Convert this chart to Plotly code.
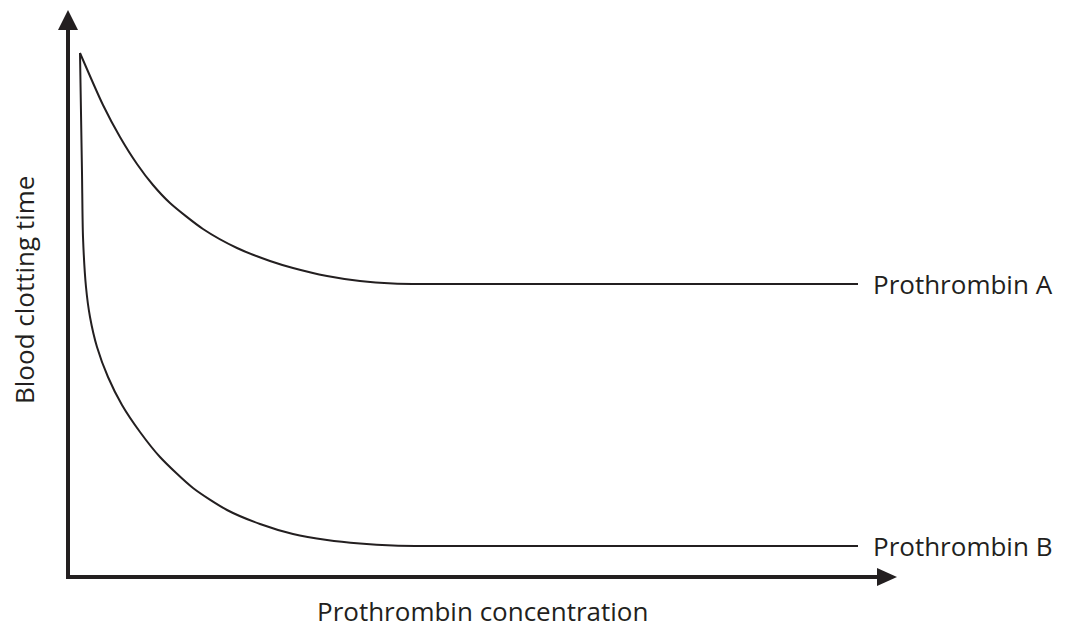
import plotly.graph_objects as go

# Data (arbitrary units: origin at the axes corner)
conc_a = [12, 35, 52, 69, 85, 102, 135, 169, 202, 225, 259, 292, 325, 359, 790]
time_a = [524, 472, 440, 413, 392, 374, 348, 329, 316, 309, 301, 296, 293.5, 293, 293]
conc_b = [12, 14, 15, 18, 22, 29, 40, 54, 72, 92, 125, 159, 192, 225, 259, 292, 325, 359, 790]
time_b = [524, 404, 340, 290, 260, 230, 200, 172, 145, 120, 89, 67, 53, 43, 37, 33.5, 31.5, 31, 31]
series_names = ["Prothrombin A", "Prothrombin B"]
x_title = "Prothrombin concentration"
y_title = "Blood clotting time"

INK = "#231f20"
X_END = 829   # tip of x-axis arrow
Y_END = 567   # tip of y-axis arrow
ARROW_LEN = 20
ARROW_HALF = 9

fig = go.Figure()
for cx, ty, name in [(conc_a, time_a, series_names[0]), (conc_b, time_b, series_names[1])]:
    fig.add_trace(go.Scatter(x=cx, y=ty, mode="lines", name=name,
                             line=dict(color=INK, width=2, shape="spline", smoothing=0.7),
                             showlegend=False, hoverinfo="skip"))

# axis lines
fig.add_shape(type="line", x0=-2, y0=0, x1=X_END - ARROW_LEN + 2, y1=0, line=dict(color=INK, width=4))
fig.add_shape(type="line", x0=0, y0=-2, x1=0, y1=Y_END - ARROW_LEN + 2, line=dict(color=INK, width=4))
# arrow heads
fig.add_shape(type="path",
              path=f"M {X_END - ARROW_LEN} {-ARROW_HALF} L {X_END} 0 L {X_END - ARROW_LEN} {ARROW_HALF} Z",
              fillcolor=INK, line=dict(color=INK, width=0))
fig.add_shape(type="path",
              path=f"M {-ARROW_HALF - 1} {Y_END - ARROW_LEN} L 0 {Y_END} L {ARROW_HALF + 1} {Y_END - ARROW_LEN} Z",
              fillcolor=INK, line=dict(color=INK, width=0))

font = dict(family="Open Sans", size=26, color=INK)
fig.add_annotation(x=conc_a[-1] + 13, y=time_a[-1], text=series_names[0], showarrow=False,
                   xanchor="left", yanchor="middle", font=font)
fig.add_annotation(x=conc_b[-1] + 13, y=time_b[-1], text=series_names[1], showarrow=False,
                   xanchor="left", yanchor="middle", font=font)
fig.add_annotation(x=414, y=-34, text=x_title, showarrow=False,
                   xanchor="center", yanchor="middle", font=font)
fig.add_annotation(x=-44, y=287, text=y_title, showarrow=False, textangle=-90,
                   xanchor="center", yanchor="middle", font=font)

fig.update_layout(
    width=1074, height=629,
    margin=dict(l=0, r=0, t=0, b=0),
    paper_bgcolor="white", plot_bgcolor="white",
    xaxis=dict(range=[-68, 1006], visible=False, fixedrange=True),
    yaxis=dict(range=[-52, 577], visible=False, fixedrange=True),
)
fig.write_html("out.html", config={"displayModeBar": False},
               post_script="document.body.style.margin='0px';")
